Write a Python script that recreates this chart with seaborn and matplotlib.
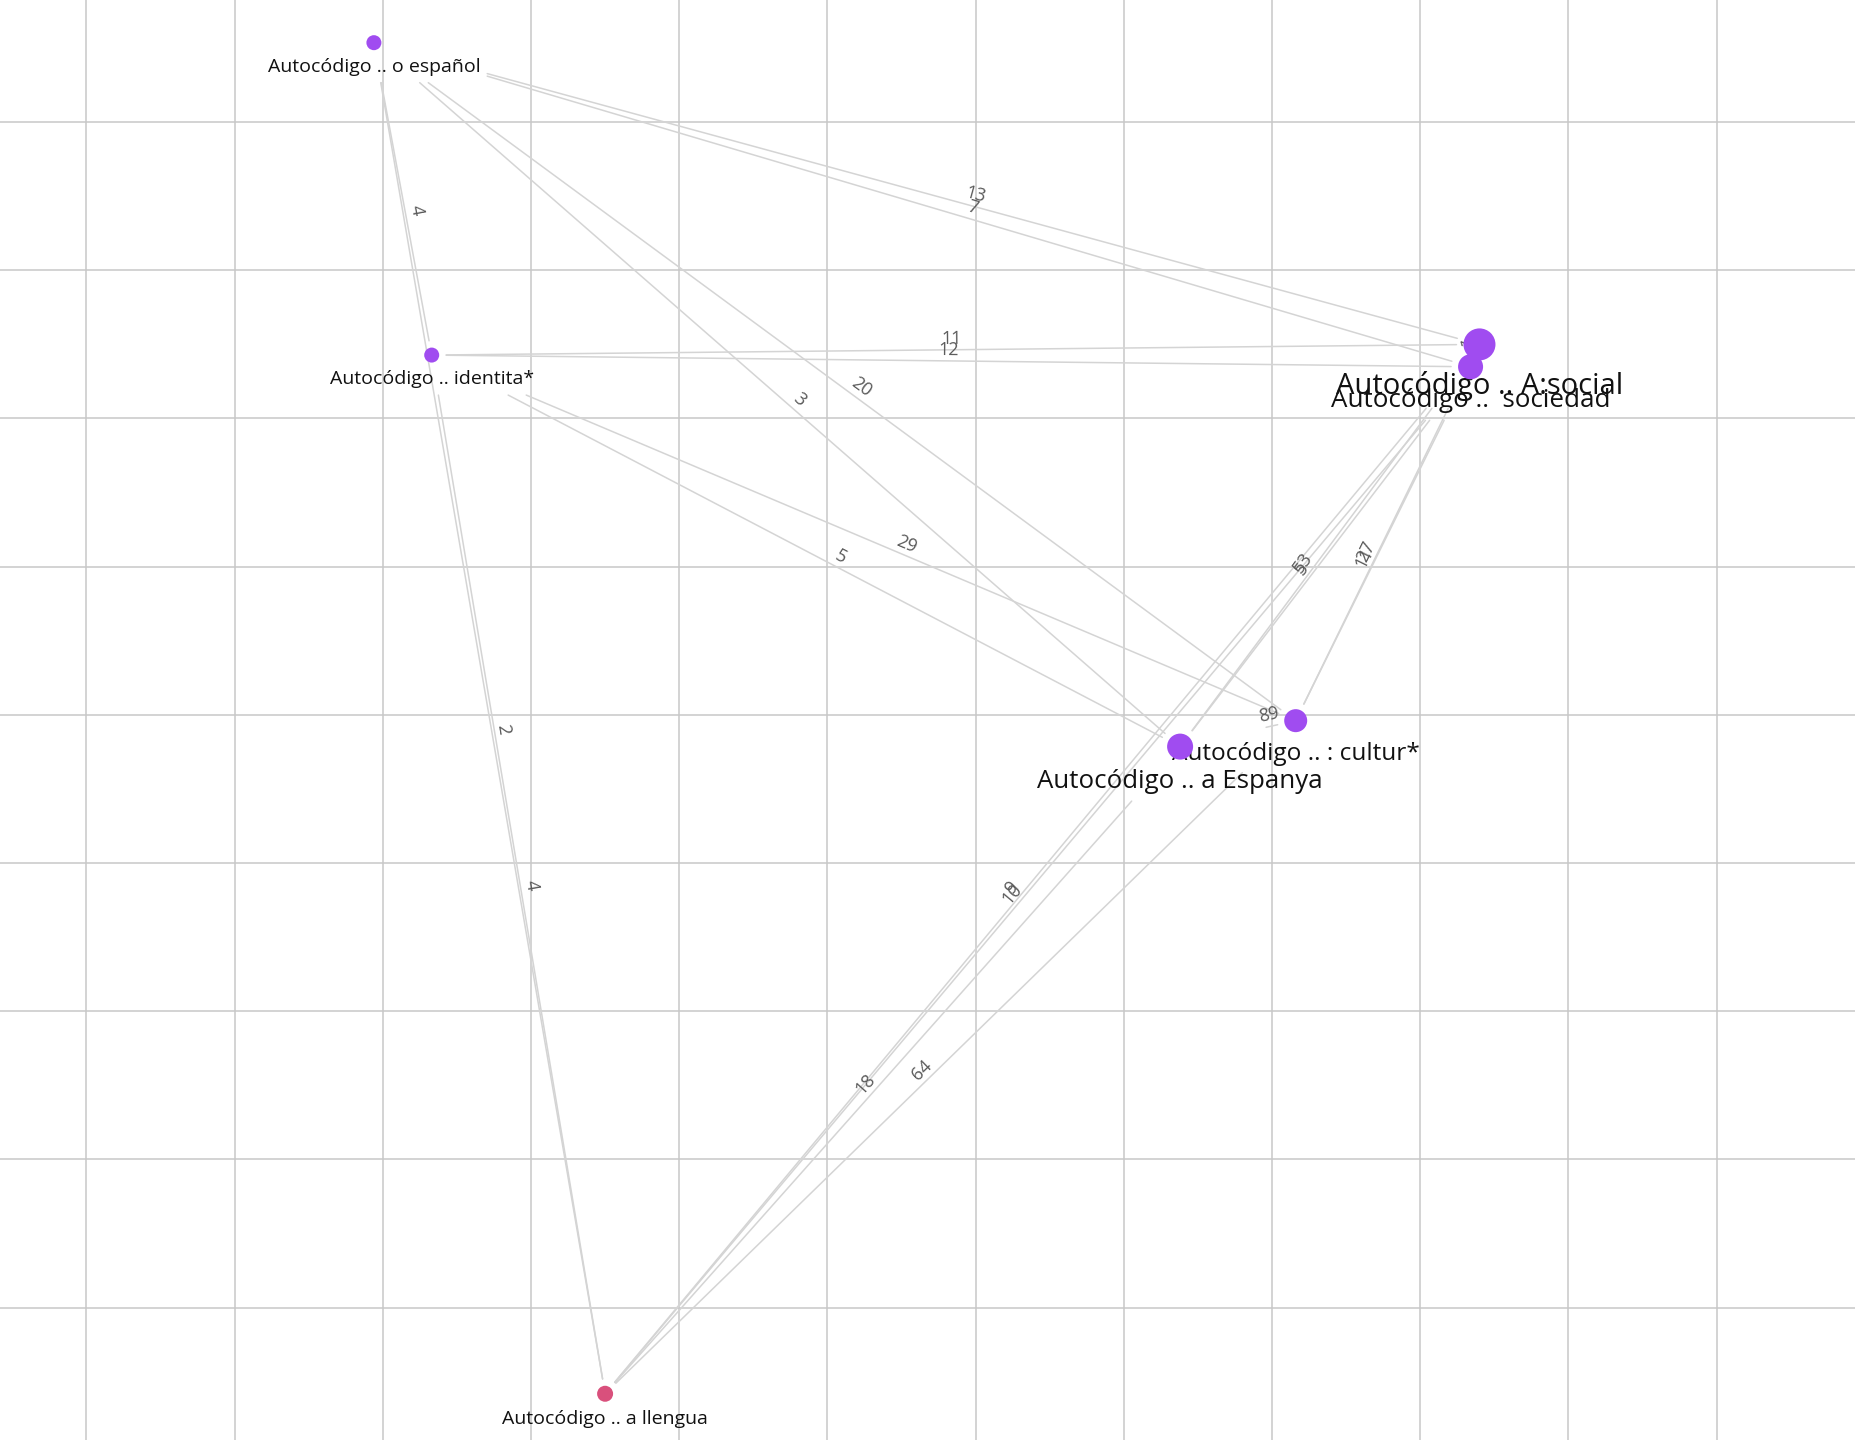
import numpy as np
import pandas as pd
import matplotlib
matplotlib.use("Agg")
import matplotlib.pyplot as plt
import seaborn as sns

# nodes (layout coordinates, one grid cell = 1 unit)
node_names = ["Autocódigo .. o español", "Autocódigo .. identita*", "Autocódigo .. A:social",
              "Autocódigo ..  sociedad", "Autocódigo .. : cultur*", "Autocódigo .. a Espanya",
              "Autocódigo .. a llengua"]
node_x = [1.94, 2.33, 9.40, 9.34, 8.16, 7.38, 3.50]
node_y = [8.535, 6.427, 6.499, 6.348, 3.960, 3.785, -0.582]
node_size = [15, 15, 32, 25, 23, 26, 16]
node_group = ["code", "code", "code", "code", "code", "code", "lang"]

# edges between nodes, with their counts
edge_src = [0, 0, 1, 0, 0, 1, 1, 1, 1, 0, 0, 6, 6, 6, 6, 5, 5, 4, 4, 5, 2]
edge_dst = [1, 6, 6, 2, 3, 2, 3, 5, 4, 5, 4, 2, 3, 5, 4, 2, 3, 2, 3, 4, 3]
edge_val = [4, 2, 4, 13, 7, 11, 12, 5, 29, 3, 20, 9, 10, 18, 64, 53, 5, 27, 11, 89, 1]

label_font = [14, 14, 21, 18.7, 17.6, 18.6, 14]
label_drop = [24, 24, 42, 34, 33, 35, 25]   # px below node centre

df = pd.DataFrame({"name": node_names, "x": node_x, "y": node_y,
                   "d": node_size, "group": node_group})

sns.set_style("whitegrid", {"grid.color": "#cccccc", "axes.edgecolor": "white"})
plt.rcParams["font.family"] = ["Open Sans", "DejaVu Sans"]

DPI = 100
fig = plt.figure(figsize=(18.55, 14.4), dpi=DPI)
ax = fig.add_axes([0, 0, 1, 1])
ax.set_xlim(-0.583, 11.934)
ax.set_ylim(-0.894, 8.823)
ax.set_xticks(range(0, 12))
ax.set_yticks(range(0, 9))
ax.tick_params(length=0, labelbottom=False, labelleft=False)
ax.grid(True, lw=1.1, color="#c8c8c8")
for s in ax.spines.values():
    s.set_visible(False)

sns.scatterplot(data=df, x="x", y="y", hue="group", size="d",
                palette={"code": "#a04cf0", "lang": "#d9507c"},
                sizes={d: (d * 0.72) ** 2 for d in node_size},
                linewidth=0, legend=False, zorder=5, ax=ax)
ax.set_xlabel("")
ax.set_ylabel("")

texts = []
for i, name in enumerate(node_names):
    t = ax.annotate(name, (node_x[i], node_y[i]), xytext=(0, -label_drop[i] * 0.72),
                    textcoords="offset points", ha="center", va="center",
                    fontsize=label_font[i], color="#111111", zorder=4)
    texts.append(t)

fig.canvas.draw()
rend = fig.canvas.get_renderer()
pad = 7
boxes, centres, radii = [], [], []
for i in range(len(node_names)):
    cx, cy = ax.transData.transform((node_x[i], node_y[i]))
    bb = texts[i].get_window_extent(rend)
    boxes.append((bb.x0 - pad, bb.x1 + pad, bb.y0 - pad, bb.y1 + pad))
    centres.append(np.array([cx, cy]))
    radii.append(node_size[i] / 2 + pad)


def ray_box(p, d, box):
    x0, x1, y0, y1 = box
    tin, tout = -np.inf, np.inf
    for k, (lo, hi) in enumerate([(x0, x1), (y0, y1)]):
        if d[k] == 0:
            if not lo <= p[k] <= hi:
                return None
            continue
        a, b = (lo - p[k]) / d[k], (hi - p[k]) / d[k]
        tin, tout = max(tin, min(a, b)), min(tout, max(a, b))
    if tin > tout or tout < 0:
        return None
    return tin, tout


def clip(p, d, i):
    # where the edge leaves node i: its dot, then its label
    t = radii[i] / np.hypot(*d)
    hit = ray_box(p, d, boxes[i])
    if hit is not None and hit[0] < 1:
        t = max(t, hit[1])
    return t


inv = ax.transData.inverted()
for s, t, v in zip(edge_src, edge_dst, edge_val):
    p, q = centres[s], centres[t]
    d = q - p
    t0 = clip(p, d, s)
    t1 = 1 - clip(q, -d, t)
    if t1 <= t0:
        # crowded pair: only a stub next to the target dot shows
        t1 = 1 - radii[t] / np.hypot(*d)
        t0 = t1 - 0.1
    a, b = p + t0 * d, p + t1 * d
    da, db = inv.transform(a), inv.transform(b)
    ax.plot([da[0], db[0]], [da[1], db[1]], color="#d4d4d4", lw=1.1, zorder=2)
    mid = (a + b) / 2
    ang = np.degrees(np.arctan2(d[1], d[0]))
    if ang > 90:
        ang -= 180
    elif ang < -90:
        ang += 180
    nx, ny = -np.sin(np.radians(ang)), np.cos(np.radians(ang))
    ax.annotate(str(v), inv.transform(mid), xytext=(nx * 11 * 0.72, ny * 11 * 0.72),
                textcoords="offset points", ha="center", va="center",
                rotation=ang, rotation_mode="anchor", fontsize=13,
                color="#5a5a5a", zorder=3)

fig.savefig("out.png", dpi=DPI)
